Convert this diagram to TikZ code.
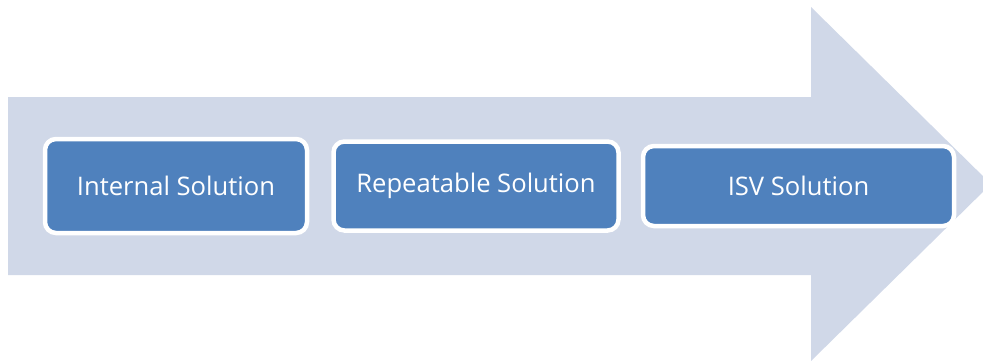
\documentclass[tikz,border=0pt]{standalone}
\usepackage{fontspec}
\setsansfont{Open Sans}
\usepackage{xcolor}
\usetikzlibrary{positioning}
\definecolor{arrowfill}{HTML}{D0D8E8}
\definecolor{stagefill}{HTML}{4F81BD}

\begin{document}
\begin{tikzpicture}[
  x=1pt, y=-1pt,
  stage/.style={draw=white, line width=4.5pt, fill=stagefill, rounded corners=11pt, text=white, font=\sffamily\fontsize{25.6}{30}\selectfont, inner sep=0pt}
]
\useasboundingbox (0,0) rectangle (983,360);
% big process arrow behind the stages
\fill[arrowfill] (8,97) -- (811,97) -- (811,7) -- (991,184) -- (811,361) -- (811,275) -- (8,275) -- cycle;
\node[stage, minimum width=262pt, minimum height=94pt] (internal) at (176,186) {Internal Solution};
\node[stage, minimum width=285pt, minimum height=89pt, right=22pt of internal] (repeatable) {Repeatable Solution};
\node[stage, minimum width=311pt, minimum height=80pt, right=20pt of repeatable] (isv) {ISV Solution};
\end{tikzpicture}
\end{document}
